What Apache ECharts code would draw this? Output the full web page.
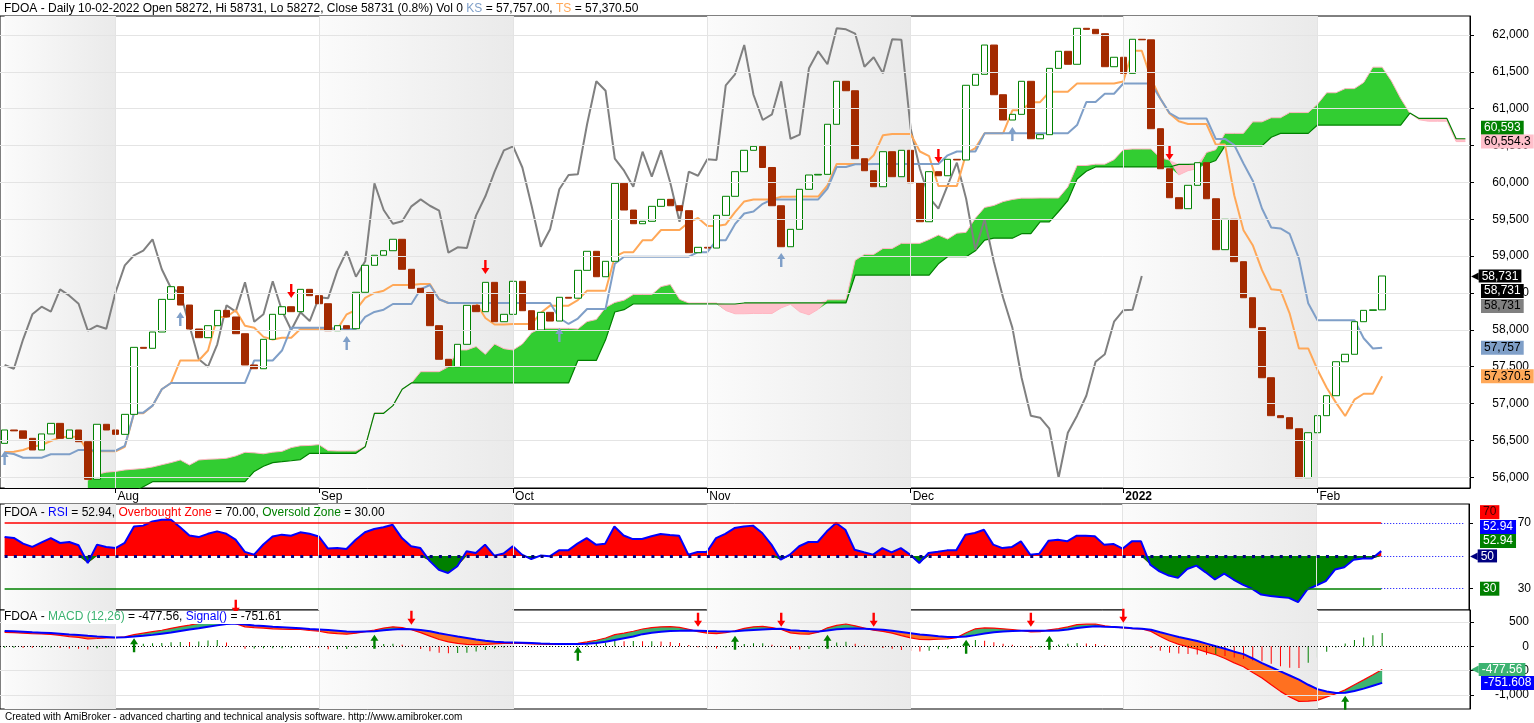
<!DOCTYPE html>
<html><head><meta charset="utf-8">
<script src="https://cdn.jsdelivr.net/npm/echarts@6/dist/echarts.min.js"></script>
<style>html,body{margin:0;padding:0;background:#fff}#c{width:1534px;height:723px}</style>
</head><body><div id="c"></div>
<script>
// ---------------- DATA ----------------
const N = 159; // 150 trading days + 9 blank future bars
const monthStarts = [12, 34, 55, 76, 98, 121, 142];
const monthNames = ['Aug', 'Sep', 'Oct', 'Nov', 'Dec', '2022', 'Feb'];
const shadedMonths = [[0, 12], [34, 55], [76, 98], [121, 142]];
const priceTicks = [56000, 56500, 57000, 57500, 58000, 58500, 59000, 59500, 60000, 60500, 61000, 61500, 62000];
const rsiTicks = [30, 70];
const macdTicks = [500, 0, -500, -1000];
const firstOpen = 56461;
const closes = [56642,56630,56529,56371,56588,56732,56529,56642,56483,55973,
56719,56642,56583,56854,57763,57750,57971,58414,58586,58337,
58012,57894,58057,58265,58175,57948,57524,57473,57872,58211,
58314,58247,58550,58464,58355,57989,58057,58016,58510,58876,
59012,59074,59229,58822,58564,58504,58057,57601,57500,57804,
58333,58247,58645,58111,58211,58659,58260,57998,58238,58120,
58442,58430,58808,59066,58721,58930,59988,59626,59440,59473,
59676,59771,59684,59617,59047,59120,59110,59554,59812,60146,
60436,60490,60203,59684,59128,59364,59907,60101,60110,60789,
61372,61244,60322,60159,59942,60417,60078,60436,59996,59467,
60146,60091,60314,60305,61318,61467,61864,61190,60847,60924,
61372,60593,60648,61548,61779,61603,62091,62077,62018,61570,
61698,61480,61942,61935,60729,60186,59793,59644,59961,60268,
59779,59088,59500,58925,58436,58030,57351,56836,56809,56659,
55995,56605,56836,57107,57568,57669,58111,58265,58272,58731];
const tenkan = [56343,56348,56371,56416,56438,56493,56543,56551,56551,56352,
56352,56352,56352,56414,56868,56868,56972,57194,57280,57585,
57585,57585,57720,58175,58175,58267,58055,58030,57905,57869,
57894,57894,58012,58012,58012,58012,58012,58211,58270,58433,
58501,58532,58609,58609,58609,58623,58623,58415,58365,58365,
58365,58365,58161,58073,58073,58080,58080,58080,58232,58329,
58329,58329,58403,58532,58532,58532,58993,59054,59054,59215,
59215,59355,59355,59355,59459,59518,59409,59409,59430,59597,
59742,59769,59769,59769,59805,59805,59809,59809,59809,59959,
60250,60250,60250,60250,60368,60640,60657,60657,60657,60420,
60356,59952,59952,59952,60393,60467,60666,60666,60666,60978,
60978,61089,61089,61229,61229,61229,61342,61342,61342,61342,
61342,61370,61786,61786,61410,61139,60935,60831,60793,60793,
60793,60515,60514,59827,59352,59149,58810,58552,58539,58219,
57748,57748,57460,57216,57013,56832,57053,57134,57134,57370.5];
const kijun = [56334,56316,56266,56266,56266,56312,56312,56312,56371,56371,
56361,56361,56361,56425,56877,56877,56972,57194,57280,57280,
57280,57280,57280,57280,57280,57280,57280,57585,57585,57585,
57720,58030,58030,58030,58030,58030,58012,58012,58012,58175,
58243,58274,58351,58351,58351,58551,58609,58415,58365,58365,
58365,58365,58365,58365,58365,58365,58365,58365,58365,58365,
58161,58080,58154,58283,58283,58283,58896,58993,58993,58993,
58993,58993,58993,58993,58993,59054,59054,59215,59215,59434,
59579,59606,59710,59769,59769,59769,59769,59769,59769,59918,
60210,60210,60246,60246,60250,60250,60250,60250,60250,60250,
60250,60250,60368,60420,60420,60420,60666,60666,60666,60666,
60666,60666,60666,60666,60666,60666,60779,61091,61091,61203,
61203,61342,61342,61342,61342,61139,60942,60868,60868,60868,
60868,60590,60590,60508,60257,60024,59647,59389,59376,59301,
58967,58362,58132,58132,58132,58132,58132,57887,57748,57757];
const spanA = [null,null,null,null,null,null,null,null,null,
55960,56040,56070,56080,56100,56110,56120,56140,56170,56200,
56235,56167,56235,56245,56250,56258,56290,56339,56332,56319,
56341,56352,56403,56428,56432,56444,56362,56357,56357,56357,
56420,56873,56873,56972,57194,57280,57433,57433,57433,57500,
57728,57728,57774,57668,57808,57745,57727,57807,57962,58021,
58021,58021,58021,58012,58112,58141,58304,58372,58403,58480,
58480,58480,58587,58616,58415,58365,58365,58365,58365,58263,
58219,58219,58223,58223,58223,58299,58347,58245,58205,58279,
58408,58408,58408,58945,59024,59024,59104,59104,59174,59174,
59174,59226,59286,59232,59312,59323,59516,59661,59688,59740,
59769,59787,59787,59789,59789,59789,59939,60230,60230,60248,
60248,60309,60445,60454,60454,60454,60335,60303,60101,60160,
60186,60407,60444,60666,60666,60666,60822,60822,60878,60878,
60948,60948,60948,61061,61217,61217,61273,61273,61356,61564,
61564,61376,61139,60939,60850,60831,60831,60831,60554.3,60554.3];
const spanB = [null,null,null,null,null,null,null,null,null,
55800,55800,55800,55800,55800,55800,55873,55941,55941,55941,
55941,55941,55941,55941,55941,55941,55941,55941,56080,56150,
56200,56212,56225,56240,56326,56326,56326,56326,56326,56326,
56414,56868,56868,56972,57194,57280,57280,57280,57280,57280,
57280,57280,57280,57280,57280,57280,57280,57280,57280,57280,
57280,57280,57280,57585,57585,57585,57865,58243,58274,58351,
58351,58351,58351,58351,58351,58351,58351,58351,58351,58351,
58351,58365,58365,58365,58365,58365,58365,58365,58365,58365,
58365,58365,58365,58744,58744,58744,58744,58744,58744,58744,
58744,58744,58896,58993,58993,58993,59072,59217,59244,59244,
59244,59305,59305,59466,59466,59606,59755,60047,60151,60210,
60210,60210,60210,60210,60210,60210,60210,60210,60246,60246,
60250,60250,60298,60496,60496,60496,60496,60496,60614,60666,
60666,60666,60666,60779,60779,60779,60779,60779,60779,60779,
60779,60779,60779,60942,60868,60868,60868,60868,60593,60593];
const rsi = [61.5,61.0,57.5,55.5,58.3,60.9,57.9,58.5,56.5,45.7,
56.9,55.5,54.8,58.0,68.0,68.5,71.0,72.1,72.1,67.5,
62.5,61.5,63.5,65.0,63.5,60.0,52.5,50.8,57.0,61.9,
63.0,62.3,64.4,63.5,61.9,54.5,54.8,54.2,59.9,64.5,
66.4,67.5,69.0,60.9,55.9,54.8,47.0,41.5,39.6,43.7,
52.8,51.8,56.9,50.2,51.5,55.9,50.8,48.1,50.2,49.8,
53.4,53.4,57.5,60.9,56.9,57.5,68.0,62.5,60.3,60.3,
62.0,63.4,62.8,62.3,50.8,52.4,52.4,60.9,63.5,67.0,
68.0,68.5,64.0,56.9,47.7,50.8,55.9,58.5,58.5,65.0,
70.1,66.0,53.8,52.2,50.8,54.8,52.2,54.8,50.8,45.7,
51.8,52.5,53.4,53.4,62.9,64.0,66.0,56.9,54.8,55.4,
58.9,50.8,51.4,59.3,59.9,58.9,62.3,62.3,62.0,56.9,
57.3,54.4,58.9,58.9,44.7,40.6,38.0,36.6,42.0,44.1,
40.0,35.6,39.2,35.6,32.5,30.0,26.4,25.5,25.0,24.4,
21.8,29.5,32.0,34.6,41.7,43.1,47.7,48.4,48.4,52.94];
const macd = [288,280,270,258,254,245,225,200,185,150,
160,172,178,195,240,270,300,330,370,405,
434,470,520,560,540,465,400,385,375,360,
350,345,345,325,310,275,260,250,270,300,
335,375,400,385,340,280,210,140,90,60,
40,35,40,50,60,65,60,50,45,40,
40,45,60,90,125,170,240,270,310,355,
385,400,406,390,350,300,270,260,280,320,
370,400,410,385,345,275,255,250,290,380,
430,458,420,375,330,305,270,220,175,140,
136,145,150,180,280,360,378,375,360,345,
325,295,300,340,362,400,444,455,458,420,
400,380,365,358,307,200,110,40,-10,-60,
-120,-173,-250,-340,-420,-540,-652,-790,-926,-1040,
-1131,-1128,-1110,-1040,-975,-895,-790,-690,-585,-477.56];
const signal = [316,308,300,290,281,272,260,245,233,215,
200,190,180,188,200,215,235,260,285,315,
345,370,400,430,460,470,450,430,415,400,
390,380,370,355,345,335,320,305,300,305,
310,330,345,355,350,335,310,270,235,200,
170,140,115,95,82,78,74,68,60,54,
50,47,48,55,70,95,130,165,200,250,
280,300,316,320,325,320,312,307,305,310,
325,335,345,355,360,330,318,307,305,325,
350,362,365,360,350,340,320,295,270,245,
225,205,192,190,200,230,262,290,305,315,
321,321,318,320,325,345,378,398,410,400,
395,389,372,362,341,290,240,190,150,110,
55,0,-50,-110,-160,-250,-344,-430,-515,-600,
-686,-790,-880,-930,-958,-955,-920,-870,-810,-751.61];
const priceUpArrows = [[0,56262],[19,58147],[37,57822],[60,57930],[84,58948],[109,60657]];
const priceDownArrows = [[31,58527],[52,58853],[101,60359],[126,60399]];
const macdUpArrows = [[14,23],[40,95],[62,-152],[79,74],[89,95],[104,-8],[113,74],[145,-1159]];
const macdDownArrows = [[25,814],[44,588],[75,547],[84,547],[94,547],[111,547],[121,629]];
const rsiOver = 70, rsiMid = 50, rsiUnder = 30;

// ---------------- derived display series ----------------
const last = closes.length - 1;
const cats = Array.from({length: N}, (_, i) => String(i));
const ohlc = closes.map((c, i) => { const o = i ? closes[i - 1] : firstOpen; return [o, c, Math.min(o, c), Math.max(o, c)]; });
const chikou = cats.map((_, i) => (i + 26 <= last ? closes[i + 26] : null));
const cloudBase = spanA.map((a, i) => (a == null ? null : Math.min(a, spanB[i])));
const cloudG = spanA.map((a, i) => (a == null ? null : Math.max(a - spanB[i], 0)));
const cloudP = spanA.map((a, i) => (a == null ? null : Math.max(spanB[i] - a, 0)));
const rsiLow = rsi.map(v => Math.min(v, rsiMid));
const rsiUp = rsi.map(v => Math.max(v - rsiMid, 0));
const rsiDn = rsi.map(v => rsiMid - Math.min(v, rsiMid));
const mBase = macd.map((m, i) => Math.min(m, signal[i]));
const mG = macd.map((m, i) => Math.max(m - signal[i], 0));
const mO = macd.map((m, i) => Math.max(signal[i] - m, 0));
const hist = macd.map((m, i) => m - signal[i]);
const histData = hist.map((h, i) => ({value: h, itemStyle: {color: (i && h < hist[i - 1]) ? '#ff0000' : '#008000'}}));
const blank = cats.map(() => null);
const fmt = v => Number(v).toLocaleString('en-US', {maximumFractionDigits: 3});

// ---------------- styling helpers ----------------
const FONT = 'Liberation Sans, Arial, sans-serif';
const shade = {type: 'linear', x: 0, y: 0, x2: 1, y2: 0, colorStops: [{offset: 0, color: '#fbfbfb'}, {offset: 1, color: '#eaeaea'}]};
const gridLineStyle = {color: '#e4e4e4', type: 'solid', width: 1};
const upPath = 'path://M4,0L8,6L5.2,6L5.2,14L2.8,14L2.8,6L0,6Z';
const dnPath = 'path://M2.8,0L5.2,0L5.2,8L8,8L4,14L0,8L2.8,8Z';
const monthVLines = monthStarts.map(i => ({xAxis: i}));
function bgSeries(gi, extraLines) {
  return {type: 'line', xAxisIndex: gi, yAxisIndex: gi, data: blank, z: 1, silent: true, symbol: 'none',
    markArea: {silent: true, itemStyle: {color: shade}, data: shadedMonths.map(([a, b]) => [{xAxis: a}, {xAxis: b}])},
    markLine: {silent: true, symbol: ['none', 'none'], label: {show: false}, lineStyle: gridLineStyle, animation: false,
      data: monthVLines.concat(extraLines || [])}};
}
function tag(v, text, bg, fg, dy, notch) {
  const t = {backgroundColor: bg, color: fg, padding: [1, 3, 0, 3], fontSize: 12, lineHeight: 13, fontFamily: FONT};
  const label = notch
    ? {show: true, position: 'end', distance: 1, opacity: 1, formatter: '{n|\u25C0}{t|' + text + '}', offset: [0, dy || 0],
       rich: {n: {color: bg, fontSize: 10, lineHeight: 13, fontFamily: 'DejaVu Sans', padding: [0, 0, 0, 0]}, t}}
    : Object.assign({show: true, position: 'end', distance: 11, opacity: 1, formatter: text, offset: [0, dy || 0]}, t);
  return {yAxis: v, lineStyle: {color: 'rgba(0,0,0,0)', width: 0}, label};
}
function tagSeries(gi, items) {
  return {type: 'line', xAxisIndex: gi, yAxisIndex: gi, data: blank, z: 10, silent: true, symbol: 'none',
    markLine: {silent: true, symbol: ['none', 'none'], animation: false, data: items}};
}
function line(gi, data, color, width, z, extra) {
  return Object.assign({type: 'line', xAxisIndex: gi, yAxisIndex: gi, data, symbol: 'none', showSymbol: false,
    silent: true, z: z || 3, lineStyle: {color, width}, connectNulls: false}, extra || {});
}
function stacked(gi, data, stack, fill, z) {
  return {type: 'line', xAxisIndex: gi, yAxisIndex: gi, data, stack, stackStrategy: 'all', symbol: 'none', silent: true,
    z: z || 2, lineStyle: {width: 0, opacity: 0}, areaStyle: fill ? {color: fill, opacity: 1} : undefined};
}
const isMonth = i => monthStarts.includes(i);
const txt = (color) => ({fontSize: 12, color, fontFamily: FONT, fontWeight: 'normal'});

const option = {
  animation: false,
  textStyle: {fontFamily: FONT},
  title: [
    {left: 4, top: 3, padding: 0, text: '{k|FDOA - Daily 10-02-2022 Open ' + closes[last - 1] + ', Hi ' + closes[last] + ', Lo ' + closes[last - 1] + ', Close ' + closes[last] + ' (0.8%) Vol 0 }{ks|KS}{k| = ' + kijun[last].toLocaleString('en-US', {minimumFractionDigits: 2}) + ', }{ts|TS}{k| = ' + tenkan[last].toLocaleString('en-US', {minimumFractionDigits: 2}) + '}',
      textStyle: {fontWeight: 'normal', rich: {k: txt('#000'), ks: txt('#7f9fc8'), ts: txt('#ffa858')}}},
    {left: 4, top: 507, padding: 0, text: '{k|FDOA - }{b|RSI}{k| = ' + rsi[last].toFixed(2) + ', }{r|Overbought Zone}{k| = 70.00, }{g|Oversold Zone}{k| = 30.00}',
      textStyle: {fontWeight: 'normal', rich: {k: txt('#000'), b: txt('#0000ff'), r: txt('#ff0000'), g: txt('#008000')}}},
    {left: 2, top: 611, padding: [0, 2, 1, 2], backgroundColor: '#fff', text: '{k|FDOA - }{m|MACD (12,26)}{k| = ' + macd[last].toFixed(2) + ', }{b|Signal()}{k| = ' + signal[last].toFixed(2) + '}',
      textStyle: {fontWeight: 'normal', rich: {k: txt('#000'), m: txt('#3cb371'), b: txt('#0000ff')}}},
    {left: 5, top: 712, padding: 0, text: 'Created with AmiBroker - advanced charting and technical analysis software. http://www.amibroker.com',
      textStyle: {fontSize: 10, fontWeight: 'normal', color: '#000', fontFamily: FONT}}
  ],
  grid: [
    {left: 0, top: 16, width: 1470, height: 472},
    {left: 0, top: 504, width: 1470, height: 106},
    {left: 0, top: 610, width: 1470, height: 99}
  ].map(g => Object.assign(g, {show: true, borderColor: '#000', borderWidth: 1, backgroundColor: '#fff'})),
  xAxis: [0, 1, 2].map(gi => ({
    type: 'category', gridIndex: gi, data: cats, boundaryGap: true,
    axisLine: {show: gi === 0, lineStyle: {color: '#000'}},
    axisTick: {show: gi === 0, alignWithLabel: true, interval: (i) => isMonth(i), length: 5, lineStyle: {color: '#000'}},
    axisLabel: {show: gi === 0, interval: (i) => isMonth(i), align: 'left', margin: 3, padding: [0, 0, 0, 2], color: '#000', fontSize: 12,
      formatter: (v) => { const k = monthStarts.indexOf(Number(v)); const n = k >= 0 ? monthNames[k] : ''; return n === '2022' ? '{b|2022}' : n; },
      rich: {b: {fontWeight: 'bold', fontSize: 12, color: '#000'}}},
    splitLine: {show: false}
  })),
  yAxis: [
    {type: 'value', gridIndex: 0, position: 'right', min: 55855, max: 62258, splitLine: {show: false},
      axisLine: {show: true, lineStyle: {color: '#000'}}, axisTick: {show: true, customValues: priceTicks, length: 4, lineStyle: {color: '#000'}},
      axisLabel: {customValues: priceTicks, align: 'right', margin: 59, color: '#000', fontSize: 12, formatter: v => fmt(v)}},
    {type: 'value', gridIndex: 1, position: 'right', min: 17, max: 81.7, splitLine: {show: false},
      axisLine: {show: true, lineStyle: {color: '#000'}}, axisTick: {show: true, customValues: rsiTicks, length: 4, lineStyle: {color: '#000'}},
      axisLabel: {customValues: rsiTicks, align: 'right', margin: 62, color: '#000', fontSize: 12}},
    {type: 'value', gridIndex: 2, position: 'right', min: -1288, max: 746, splitLine: {show: false},
      axisLine: {show: true, lineStyle: {color: '#000'}}, axisTick: {show: true, customValues: macdTicks, length: 4, lineStyle: {color: '#000'}},
      axisLabel: {customValues: macdTicks, align: 'right', margin: 59, color: '#000', fontSize: 12, formatter: v => fmt(v)}}
  ],
  series: [
    // ---- price pane ----
    bgSeries(0, priceTicks.map(v => ({yAxis: v}))),
    stacked(0, cloudBase, 'cloud', null, 2),
    stacked(0, cloudG, 'cloud', '#32cd32', 2),
    stacked(0, cloudP, 'cloud', '#ffc0cb', 2),
    line(0, spanA, '#ffb6c1', 1, 2),
    line(0, spanB, '#008000', 1.2, 2),
    line(0, chikou, '#808080', 2, 3),
    line(0, tenkan, '#ffa858', 2, 3),
    line(0, kijun, '#7f9fc8', 2, 3),
    {type: 'candlestick', xAxisIndex: 0, yAxisIndex: 0, data: ohlc, barWidth: 7, z: 4, silent: true,
      itemStyle: {color: '#ffffff', color0: '#a32a00', borderColor: '#008000', borderColor0: '#a32a00', borderWidth: 1}},
    {type: 'scatter', xAxisIndex: 0, yAxisIndex: 0, data: priceUpArrows, symbol: upPath, symbolSize: [8, 14], z: 5, silent: true, itemStyle: {color: '#7f9fc8', opacity: 1}},
    {type: 'scatter', xAxisIndex: 0, yAxisIndex: 0, data: priceDownArrows, symbol: dnPath, symbolSize: [8, 14], z: 5, silent: true, itemStyle: {color: '#ff0000', opacity: 1}},
    tagSeries(0, [
      tag(spanB[N - 1], fmt(spanB[N - 1]), '#008000', '#fff', -11),
      tag(spanA[N - 1], fmt(spanA[N - 1]), '#ffc0cb', '#000', 0),
      tag(closes[last], fmt(closes[last]), '#000', '#fff', 0, true),
      tag(closes[last], fmt(closes[last]), '#000', '#fff', 15),
      tag(chikou[last - 26], fmt(chikou[last - 26]), '#808080', '#000', 30),
      tag(kijun[last], fmt(kijun[last]), '#7f9fc8', '#000', 0),
      tag(tenkan[last], fmt(tenkan[last]), '#ffa858', '#000', 0)
    ]),
    // ---- RSI pane ----
    bgSeries(1, [
      [{xAxis: 0, yAxis: rsiOver, lineStyle: {color: '#ff0000', width: 1.5, type: 'solid'}}, {xAxis: last, yAxis: rsiOver}],
      [{xAxis: 0, yAxis: rsiUnder, lineStyle: {color: '#008000', width: 1.5, type: 'solid'}}, {xAxis: last, yAxis: rsiUnder}],
      [{xAxis: last, yAxis: rsiOver, lineStyle: {color: '#0000ff', width: 1, type: [1, 2]}}, {xAxis: N - 1, yAxis: rsiOver}],
      [{xAxis: last, yAxis: rsiUnder, lineStyle: {color: '#0000ff', width: 1, type: [1, 2]}}, {xAxis: N - 1, yAxis: rsiUnder}],
      [{xAxis: last, yAxis: rsiMid, lineStyle: {color: '#0000ff', width: 1, type: [1, 2]}}, {xAxis: N - 1, yAxis: rsiMid}]
    ]),
    stacked(1, rsiLow, 'ru', null, 2),
    stacked(1, rsiUp, 'ru', '#ff0000', 2),
    stacked(1, rsiLow, 'rd', null, 2),
    stacked(1, rsiDn, 'rd', '#008000', 2),
    {type: 'line', xAxisIndex: 1, yAxisIndex: 1, data: blank, z: 3, silent: true, symbol: 'none',
      markLine: {silent: true, symbol: ['none', 'none'], label: {show: false}, animation: false,
        data: [[{xAxis: 0, yAxis: rsiMid, lineStyle: {color: '#000080', width: 3, type: [3, 6.24]}}, {xAxis: last, yAxis: rsiMid}]]}},
    line(1, rsi, '#0000ff', 2, 4),
    tagSeries(1, [
      tag(rsiOver, String(rsiOver), '#ff0000', '#400000', -11),
      tag(rsi[last], rsi[last].toFixed(2), '#0000ff', '#fff', -24),
      tag(rsi[last], rsi[last].toFixed(2), '#008000', '#fff', -10),
      tag(rsiMid, String(rsiMid), '#000080', '#fff', 0, true),
      tag(rsiUnder, String(rsiUnder), '#008000', '#fff', 0)
    ]),
    // ---- MACD pane ----
    bgSeries(2, macdTicks.filter(v => v !== 0).map(v => ({yAxis: v})).concat([
      {yAxis: 0, lineStyle: {color: '#000', width: 1, type: [1, 2]}}
    ])),
    {type: 'bar', xAxisIndex: 2, yAxisIndex: 2, data: histData, barWidth: 1, z: 2, silent: true},
    stacked(2, mBase, 'mc', null, 2),
    stacked(2, mG, 'mc', '#3cb371', 2),
    stacked(2, mO, 'mc', '#ff7020', 2),
    line(2, macd, '#ff0000', 1.2, 3),
    line(2, signal, '#0000ff', 2, 3),
    {type: 'scatter', xAxisIndex: 2, yAxisIndex: 2, data: macdUpArrows, symbol: upPath, symbolSize: [8, 14], z: 5, clip: false, silent: true, itemStyle: {color: '#008000', opacity: 1}},
    {type: 'scatter', xAxisIndex: 2, yAxisIndex: 2, data: macdDownArrows, symbol: dnPath, symbolSize: [8, 14], z: 5, clip: false, silent: true, itemStyle: {color: '#ff0000', opacity: 1}},
    tagSeries(2, [
      tag(macd[last], macd[last].toFixed(2), '#3cb371', '#fff', 0, true),
      tag(signal[last], '-751.608', '#0000ff', '#fff', 0)
    ])
  ]
};
const chart = echarts.init(document.getElementById('c'), null, {renderer: 'canvas'});
chart.setOption(option);
</script>
</body></html>
